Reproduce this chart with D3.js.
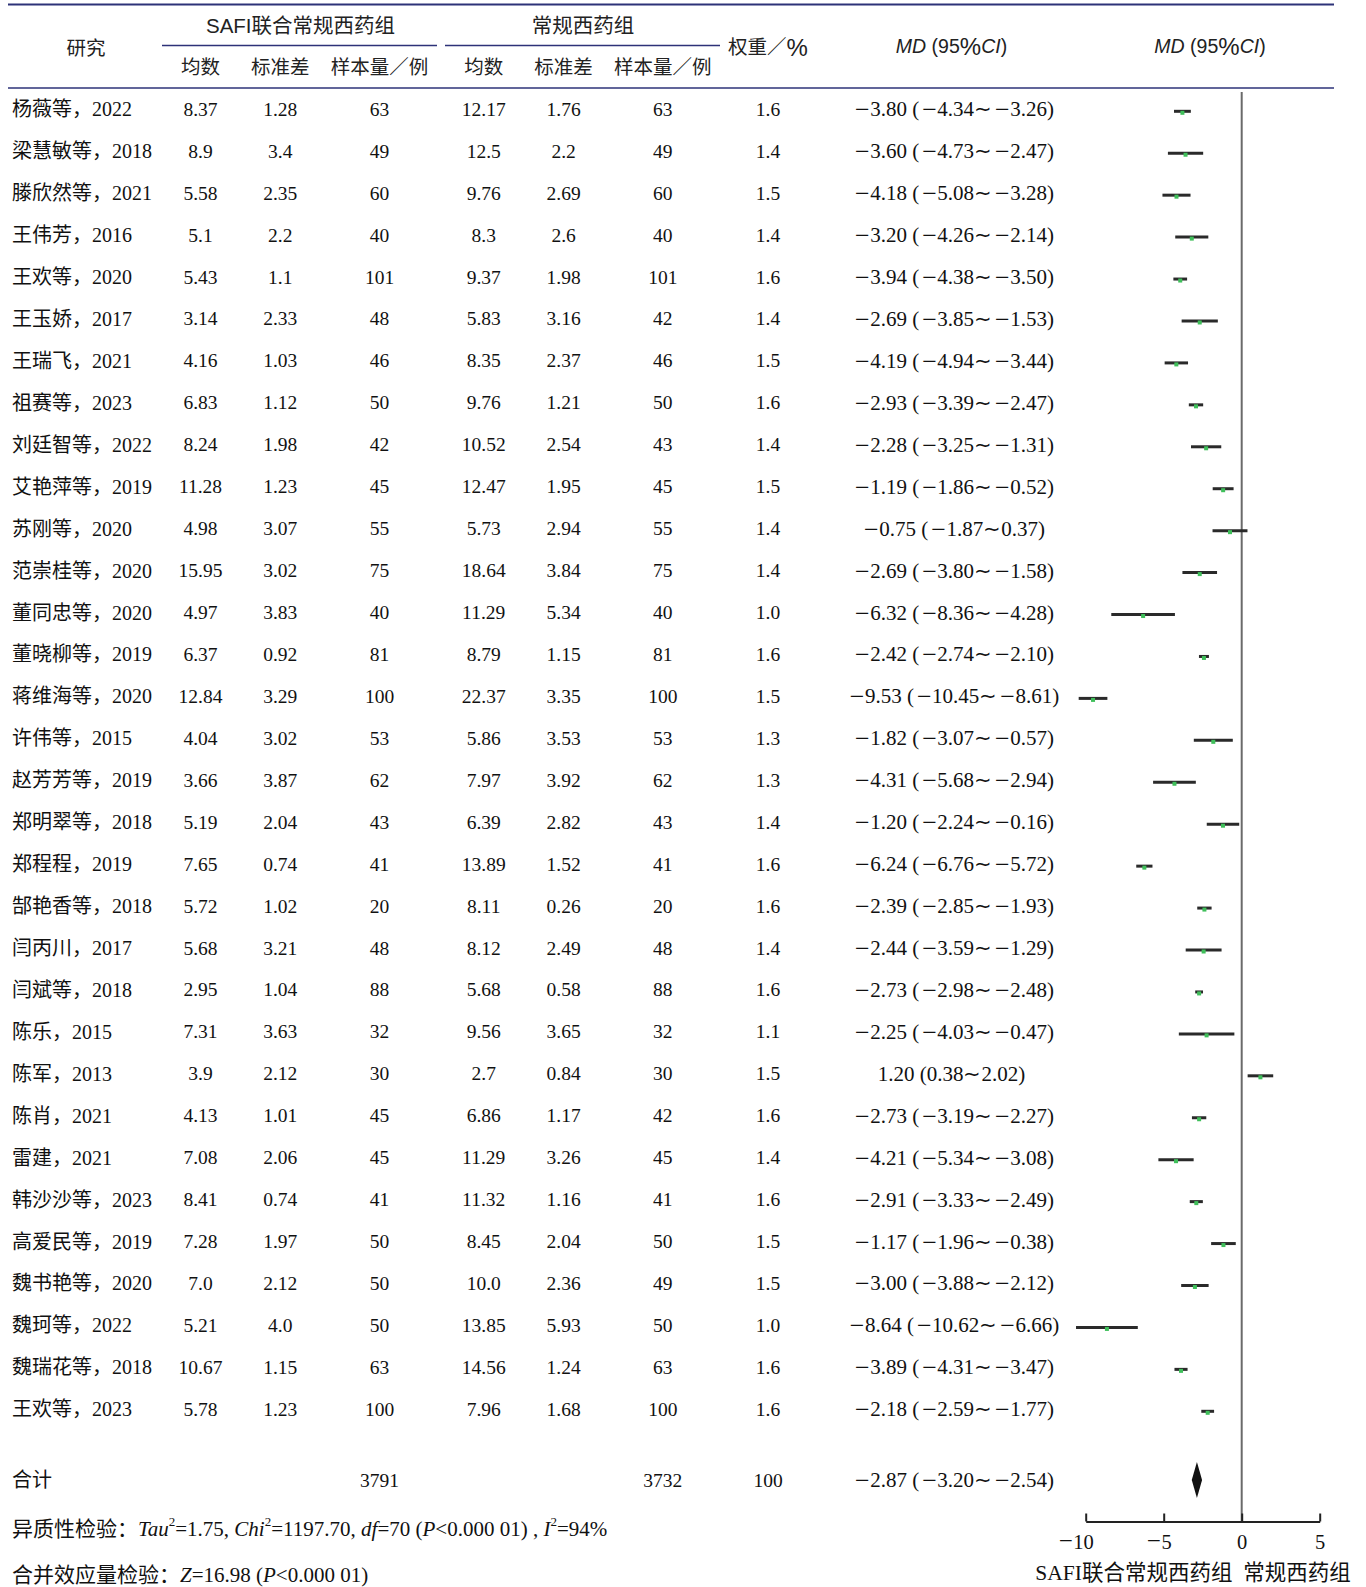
<!DOCTYPE html>
<html><head><meta charset="utf-8">
<script src="https://cdn.jsdelivr.net/npm/d3@7/dist/d3.min.js"></script>
<style>
body{margin:0;background:#fff;}
svg{display:block;}
.serif{font-family:"Liberation Serif","Noto Sans CJK SC",serif;}
.sans{font-family:"Liberation Sans","Noto Sans CJK SC",sans-serif;}
</style></head>
<body>
<svg id="c" width="1366" height="1587"></svg>
<script>
const studies = ["杨薇等，2022","梁慧敏等，2018","滕欣然等，2021","王伟芳，2016","王欢等，2020","王玉娇，2017","王瑞飞，2021","祖赛等，2023","刘廷智等，2022","艾艳萍等，2019","苏刚等，2020","范崇桂等，2020","董同忠等，2020","董晓柳等，2019","蒋维海等，2020","许伟等，2015","赵芳芳等，2019","郑明翠等，2018","郑程程，2019","郜艳香等，2018","闫丙川，2017","闫斌等，2018","陈乐，2015","陈军，2013","陈肖，2021","雷建，2021","韩沙沙等，2023","高爱民等，2019","魏书艳等，2020","魏珂等，2022","魏瑞花等，2018","王欢等，2023"];
const mean1 = ["8.37","8.9","5.58","5.1","5.43","3.14","4.16","6.83","8.24","11.28","4.98","15.95","4.97","6.37","12.84","4.04","3.66","5.19","7.65","5.72","5.68","2.95","7.31","3.9","4.13","7.08","8.41","7.28","7.0","5.21","10.67","5.78"];
const sd1 = ["1.28","3.4","2.35","2.2","1.1","2.33","1.03","1.12","1.98","1.23","3.07","3.02","3.83","0.92","3.29","3.02","3.87","2.04","0.74","1.02","3.21","1.04","3.63","2.12","1.01","2.06","0.74","1.97","2.12","4.0","1.15","1.23"];
const n1 = [63,49,60,40,101,48,46,50,42,45,55,75,40,81,100,53,62,43,41,20,48,88,32,30,45,45,41,50,50,50,63,100];
const mean2 = ["12.17","12.5","9.76","8.3","9.37","5.83","8.35","9.76","10.52","12.47","5.73","18.64","11.29","8.79","22.37","5.86","7.97","6.39","13.89","8.11","8.12","5.68","9.56","2.7","6.86","11.29","11.32","8.45","10.0","13.85","14.56","7.96"];
const sd2 = ["1.76","2.2","2.69","2.6","1.98","3.16","2.37","1.21","2.54","1.95","2.94","3.84","5.34","1.15","3.35","3.53","3.92","2.82","1.52","0.26","2.49","0.58","3.65","0.84","1.17","3.26","1.16","2.04","2.36","5.93","1.24","1.68"];
const n2 = [63,49,60,40,101,42,46,50,43,45,55,75,40,81,100,53,62,43,41,20,48,88,32,30,42,45,41,50,49,50,63,100];
const weights = [1.6,1.4,1.5,1.4,1.6,1.4,1.5,1.6,1.4,1.5,1.4,1.4,1.0,1.6,1.5,1.3,1.3,1.4,1.6,1.6,1.4,1.6,1.1,1.5,1.6,1.4,1.6,1.5,1.5,1.0,1.6,1.6];
const md = [-3.80,-3.60,-4.18,-3.20,-3.94,-2.69,-4.19,-2.93,-2.28,-1.19,-0.75,-2.69,-6.32,-2.42,-9.53,-1.82,-4.31,-1.20,-6.24,-2.39,-2.44,-2.73,-2.25,1.20,-2.73,-4.21,-2.91,-1.17,-3.00,-8.64,-3.89,-2.18];
const lower = [-4.34,-4.73,-5.08,-4.26,-4.38,-3.85,-4.94,-3.39,-3.25,-1.86,-1.87,-3.80,-8.36,-2.74,-10.45,-3.07,-5.68,-2.24,-6.76,-2.85,-3.59,-2.98,-4.03,0.38,-3.19,-5.34,-3.33,-1.96,-3.88,-10.62,-4.31,-2.59];
const upper = [-3.26,-2.47,-3.28,-2.14,-3.50,-1.53,-3.44,-2.47,-1.31,-0.52,0.37,-1.58,-4.28,-2.10,-8.61,-0.57,-2.94,-0.16,-5.72,-1.93,-1.29,-2.48,-0.47,2.02,-2.27,-3.08,-2.49,-0.38,-2.12,-6.66,-3.47,-1.77];
const total = {label:"合计", n1:3791, n2:3732, weight:100, md:-2.87, lower:-3.20, upper:-2.54};
const axisTicks = [-10,-5,0,5];

const svg = d3.select("#c");
const NAVY = "#2d3278";
const fmt = v => (v<0 ? "\u2212" : "") + Math.abs(v).toFixed(2);
const mdText = (m,l,u) => fmt(m) + " (" + fmt(l) + "\u223C" + fmt(u) + ")";

// write a string into a text element, drawing each minus sign as a longer dash
function richMinus(t, str, before, after, mfs, firstShift){
  const parts = str.split("\u2212");
  parts.forEach((p,i)=>{
    if(i>0){ t.append("tspan").attr("dx",(i===1 && firstShift!=null) ? firstShift : before).attr("font-size",mfs).text("\u2212"); }
    if(p.length){ const s=t.append("tspan").text(p); if(i>0) s.attr("dx",after); }
  });
}

const y = d3.scaleLinear().domain([0, studies.length-1]).range([109.3, 1409.3]);
const x = d3.scaleLinear().domain([-10,5]).range([1085.7, 1319.7]);
const yTotal = 1480;
const axisY = 1521.5;

const col = {name:12, m1:200.5, s1:280.3, n1:379.5, m2:483.7, s2:563.6, n2:662.8, w:768, md:951.5};

// header lines
svg.append("line").attr("x1",8).attr("x2",1334).attr("y1",4.5).attr("y2",4.5).attr("stroke",NAVY).attr("stroke-width",2);
svg.append("line").attr("x1",162).attr("x2",437).attr("y1",45.5).attr("y2",45.5).attr("stroke",NAVY).attr("stroke-width",1.3);
svg.append("line").attr("x1",445).attr("x2",720).attr("y1",45.5).attr("y2",45.5).attr("stroke",NAVY).attr("stroke-width",1.3);
svg.append("line").attr("x1",8).attr("x2",1334).attr("y1",88).attr("y2",88).attr("stroke",NAVY).attr("stroke-width",1.3);

const hdr = (t,xx,yy,fs) => svg.append("text").attr("class","sans").attr("x",xx).attr("y",yy)
  .attr("text-anchor","middle").attr("dominant-baseline","central").attr("font-size",fs||19.5).attr("fill","#222").text(t);
hdr("研究",86,47.5);
hdr("SAFI联合常规西药组",300.5,25,20.5);
hdr("常规西药组",583,25,20.5);
[["均数",col.m1],["标准差",col.s1],["样本量／例",col.n1],["均数",col.m2],["标准差",col.s2],["样本量／例",col.n2]]
  .forEach(d=>hdr(d[0],d[1],67));
{
  const t = svg.append("text").attr("class","sans").attr("x",768).attr("y",47).attr("text-anchor","middle")
    .attr("dominant-baseline","central").attr("font-size",19.5).attr("fill","#222");
  t.append("tspan").text("权重／");
  t.append("tspan").attr("font-size",24).text("%");
}
[951.5,1210].forEach(cx=>{
  const t = svg.append("text").attr("class","sans").attr("x",cx).attr("y",46).attr("text-anchor","middle")
    .attr("dominant-baseline","central").attr("font-size",19.5).attr("fill","#222");
  t.append("tspan").attr("font-style","italic").text("MD");
  t.append("tspan").text(" (95");
  t.append("tspan").attr("font-size",24).text("%");
  t.append("tspan").attr("font-style","italic").text("CI");
  t.append("tspan").text(")");
});

// table rows
const rows = studies.map((s,i)=>({s, m1:mean1[i], s1:sd1[i], n1:n1[i], m2:mean2[i], s2:sd2[i], n2:n2[i], w:weights[i], md:md[i], lo:lower[i], hi:upper[i], i}));
const cell = (g,t,xx,anchor,fs) => g.append("text").attr("class","serif").attr("x",xx).attr("y",0)
  .attr("text-anchor",anchor||"middle").attr("dominant-baseline","central").attr("font-size",fs||19.5).attr("fill","#111").text(t);
const mdCell = (g,str) => { const t = g.append("text").attr("class","serif").attr("x",col.md).attr("y",0)
  .attr("text-anchor","middle").attr("dominant-baseline","central").attr("font-size",21).attr("fill","#111");
  richMinus(t,str,3,0.5,26); };

const rg = svg.append("g").selectAll("g").data(rows).join("g").attr("transform",d=>`translate(0,${y(d.i)})`);
rg.each(function(d){
  const g = d3.select(this);
  cell(g,d.s,col.name,"start",20);
  cell(g,d.m1,col.m1); cell(g,d.s1,col.s1); cell(g,d.n1,col.n1);
  cell(g,d.m2,col.m2); cell(g,d.s2,col.s2); cell(g,d.n2,col.n2);
  cell(g,d.w.toFixed(1),col.w);
  mdCell(g,mdText(d.md,d.lo,d.hi));
});

// total row
const tg = svg.append("g").attr("transform",`translate(0,${yTotal})`);
cell(tg,total.label,col.name,"start",20);
cell(tg,total.n1,col.n1); cell(tg,total.n2,col.n2); cell(tg,total.weight,col.w);
mdCell(tg,mdText(total.md,total.lower,total.upper));

// zero line
svg.append("line").attr("x1",x(0)).attr("x2",x(0)).attr("y1",92).attr("y2",axisY).attr("stroke","#6a6a6a").attr("stroke-width",2);

// CIs
const fg = svg.append("g");
fg.selectAll("line.ci").data(rows).join("line").attr("class","ci")
  .attr("x1",d=>x(d.lo)).attr("x2",d=>x(d.hi)).attr("y1",d=>y(d.i)+2).attr("y2",d=>y(d.i)+2)
  .attr("stroke","#2a2a2a").attr("stroke-width",3);
fg.selectAll("rect.pt").data(rows).join("rect").attr("class","pt")
  .attr("x",d=>x(d.md)-2).attr("y",d=>y(d.i)+1.5).attr("width",4).attr("height",4).attr("fill","#3fbf5a");

// diamond
svg.append("path").attr("d",
  `M${x(total.lower)},${yTotal} L${x(total.md)},${yTotal-18} L${x(total.upper)},${yTotal} L${x(total.md)},${yTotal+18} Z`)
  .attr("fill","#111");

// axis
const ax = svg.append("g").attr("transform",`translate(0,${axisY})`)
  .call(d3.axisBottom(x).tickValues(axisTicks).tickSizeInner(-8).tickSizeOuter(0).tickPadding(13)
    .tickFormat(v=> (v<0?"\u2212":"")+Math.abs(v)));
ax.select(".domain").attr("stroke","#222").attr("stroke-width",2);
ax.selectAll(".tick line").attr("stroke","#222").attr("stroke-width",2);
ax.selectAll(".tick text").attr("class","serif").attr("font-size",20.5).attr("fill","#111")
  .each(function(d){ if(d<0){ const t=d3.select(this); const s=t.text(); t.text("");
      richMinus(t,s,0,0.5,25, d===-10 ? -10 : -5); } });

svg.append("text").attr("class","serif").attr("x",1193).attr("y",1573).attr("text-anchor","middle")
  .attr("dominant-baseline","central").attr("font-size",21.5).attr("fill","#111").text("SAFI联合常规西药组\u2002常规西药组");

// footer
const f1 = svg.append("text").attr("class","serif").attr("x",12).attr("y",1529).attr("dominant-baseline","central").attr("font-size",21).attr("fill","#111");
const seg = (t,txt,it,sup)=>{ const s=t.append("tspan").text(txt); if(it) s.attr("font-style","italic"); if(sup) s.attr("baseline-shift","super").attr("font-size",13); return s; };
seg(f1,"异质性检验："); seg(f1,"Tau",1); seg(f1,"2",0,1); seg(f1,"=1.75, "); seg(f1,"Chi",1); seg(f1,"2",0,1);
seg(f1,"=1197.70, "); seg(f1,"df",1); seg(f1,"=70 ("); seg(f1,"P",1); seg(f1,"<0.000 01) , "); seg(f1,"I",1); seg(f1,"2",0,1); seg(f1,"=94%");
const f2 = svg.append("text").attr("class","serif").attr("x",12).attr("y",1575).attr("dominant-baseline","central").attr("font-size",21).attr("fill","#111");
seg(f2,"合并效应量检验："); seg(f2,"Z",1); seg(f2,"=16.98 ("); seg(f2,"P",1); seg(f2,"<0.000 01)");
</script>
</body></html>
